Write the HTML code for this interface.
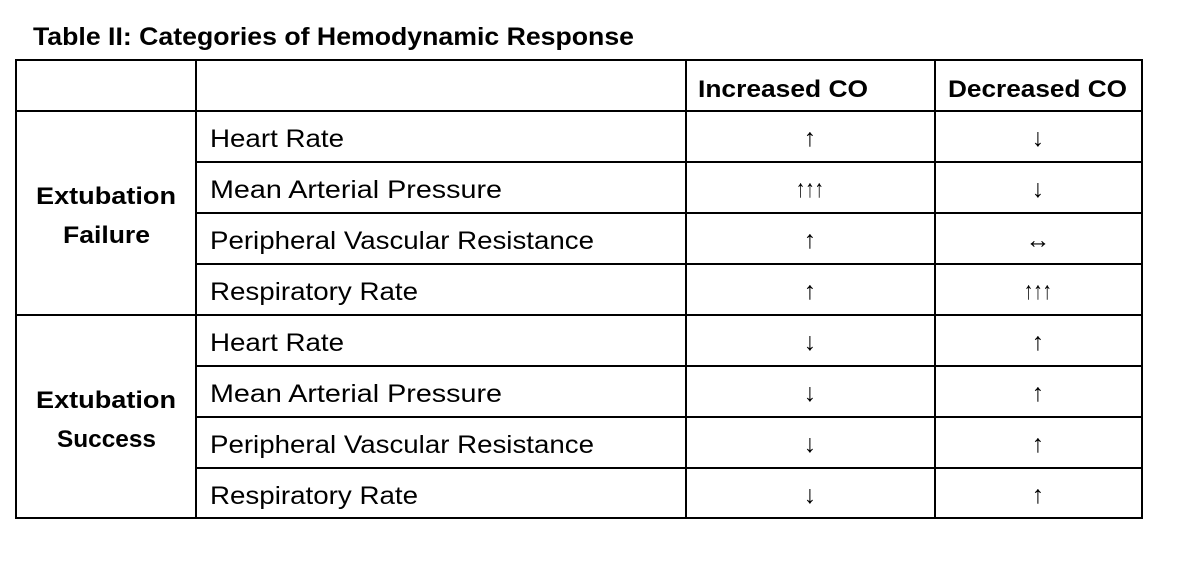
<!DOCTYPE html>
<html><head><meta charset="utf-8"><style>
html,body{margin:0;padding:0;background:#fff;}
svg{display:block;}
text{font-family:"Liberation Sans",sans-serif;fill:#000;}
</style></head><body>
<svg width="1190" height="562" viewBox="0 0 1190 562">
<text x="33" y="45" font-size="25" font-weight="bold" textLength="601" lengthAdjust="spacingAndGlyphs">Table II: Categories of Hemodynamic Response</text>
<g stroke="#000" stroke-width="2" fill="none">
<rect x="16" y="60" width="1126" height="458"/>
<line x1="196" y1="60" x2="196" y2="518"/>
<line x1="686" y1="60" x2="686" y2="518"/>
<line x1="935" y1="60" x2="935" y2="518"/>
<line x1="16" y1="111" x2="1142" y2="111"/>
<line x1="196" y1="162" x2="1142" y2="162"/>
<line x1="196" y1="213" x2="1142" y2="213"/>
<line x1="196" y1="264" x2="1142" y2="264"/>
<line x1="16" y1="315" x2="1142" y2="315"/>
<line x1="196" y1="366" x2="1142" y2="366"/>
<line x1="196" y1="417" x2="1142" y2="417"/>
<line x1="196" y1="468" x2="1142" y2="468"/>
</g>
<text x="698" y="97" font-size="24" font-weight="bold" textLength="170" lengthAdjust="spacingAndGlyphs">Increased CO</text>
<text x="948" y="97" font-size="24" font-weight="bold" textLength="179" lengthAdjust="spacingAndGlyphs">Decreased CO</text>
<text x="36" y="204" font-size="24" font-weight="bold" textLength="140" lengthAdjust="spacingAndGlyphs">Extubation</text>
<text x="63" y="243" font-size="24" font-weight="bold" textLength="87" lengthAdjust="spacingAndGlyphs">Failure</text>
<text x="36" y="408" font-size="24" font-weight="bold" textLength="140" lengthAdjust="spacingAndGlyphs">Extubation</text>
<text x="57" y="447" font-size="24" font-weight="bold" textLength="99" lengthAdjust="spacingAndGlyphs">Success</text>
<g id="rows"></g>
</svg>
<script>
const labels=["Heart Rate","Mean Arterial Pressure","Peripheral Vascular Resistance","Respiratory Rate","Heart Rate","Mean Arterial Pressure","Peripheral Vascular Resistance","Respiratory Rate"];
const labelWidths={"Heart Rate":134,"Mean Arterial Pressure":292,"Peripheral Vascular Resistance":384,"Respiratory Rate":208};
const increased=["↑","↑↑↑","↑","↑","↓","↓","↓","↓"];
const decreased=["↓","↓","↔","↑↑↑","↑","↑","↑","↑"];
const NS="http://www.w3.org/2000/svg";
const g=document.getElementById('rows');
function mk(x,y,txt,anchor,w){
  const t=document.createElementNS(NS,'text');
  t.setAttribute('x',x);t.setAttribute('y',y);t.setAttribute('font-size','25');
  if(anchor)t.setAttribute('text-anchor',anchor);
  if(w){t.setAttribute('textLength',w);t.setAttribute('lengthAdjust','spacingAndGlyphs');}
  t.textContent=txt;g.appendChild(t);return t;
}
labels.forEach((l,i)=>{
  const y=111+51*i+36;
  const a=mk(210,y,l,null,labelWidths[l]);
  
  
  const b=mk(810,y-1,increased[i],'middle',increased[i].length>1?28:null);
  
  
  const c=mk(1038,y-1,decreased[i],'middle',decreased[i].length>1?28:null);
  
  
});
</script>
</body></html>
